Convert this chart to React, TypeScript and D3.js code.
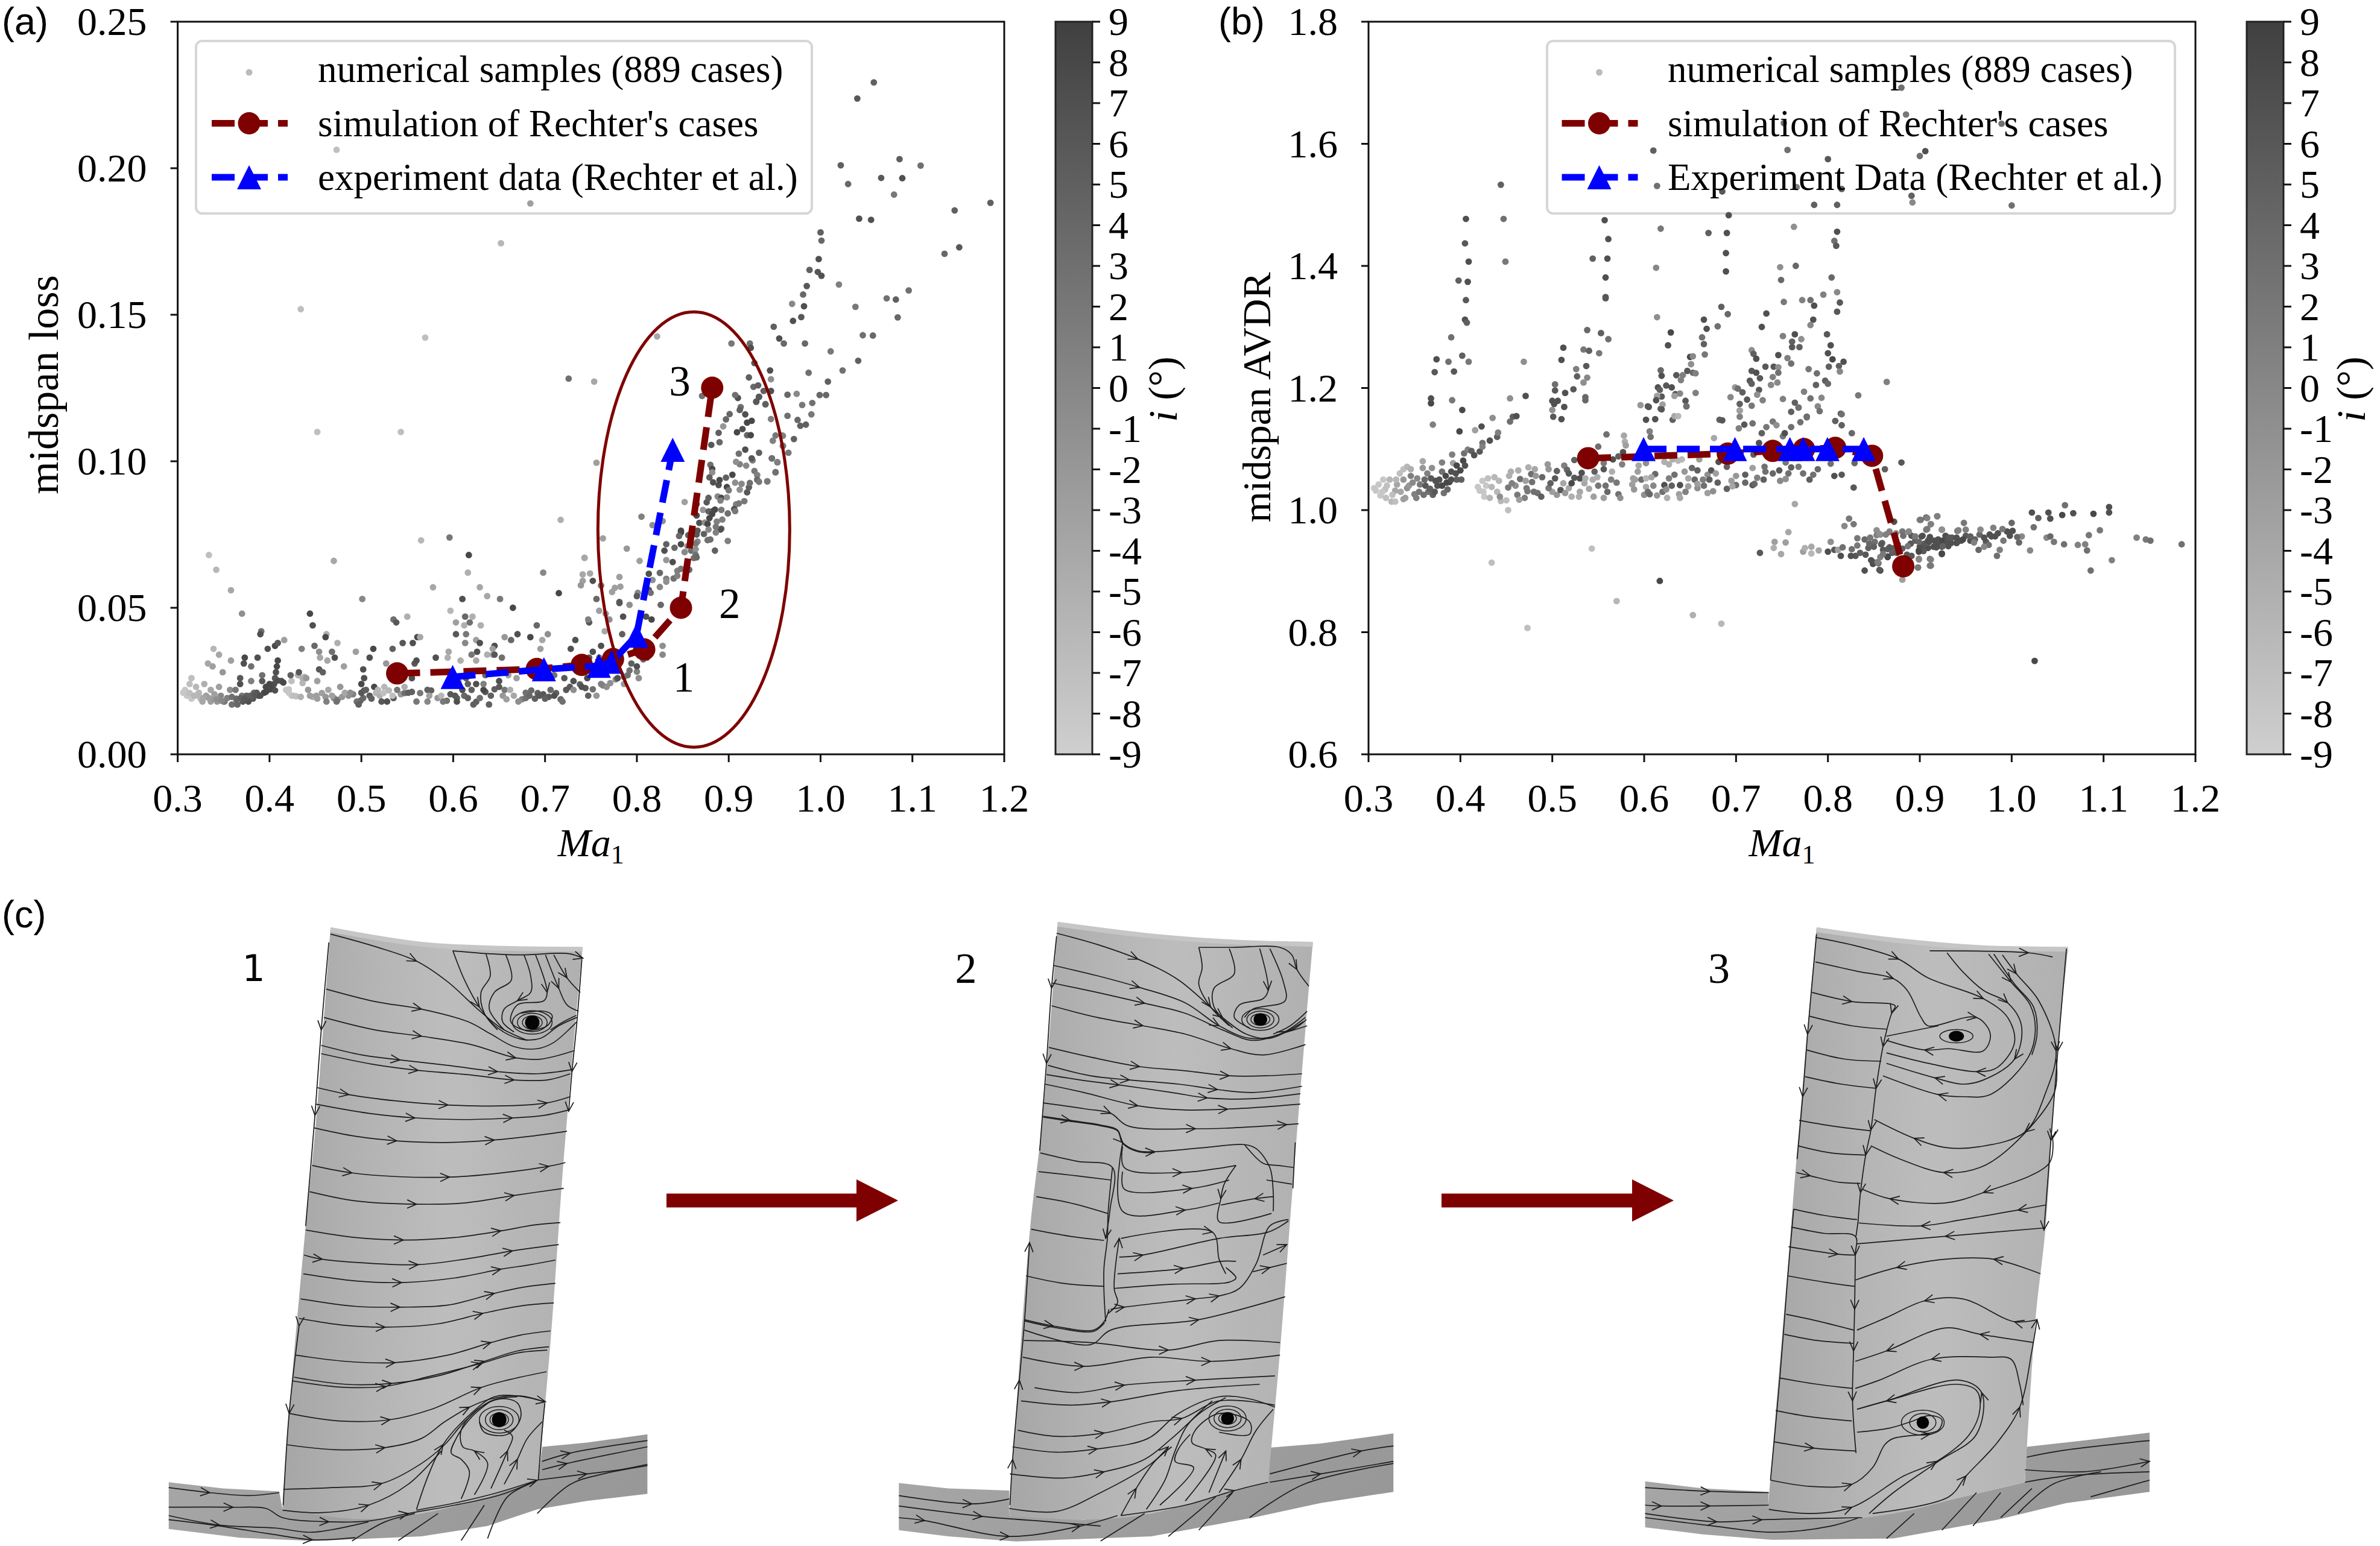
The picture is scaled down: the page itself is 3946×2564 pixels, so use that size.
import React from "react";
import * as d3 from "d3";

type P = [number, number, number];

const machTicks = [0.3, 0.4, 0.5, 0.6, 0.7, 0.8, 0.9, 1.0, 1.1, 1.2];
const lossTicks = [0, 0.05, 0.1, 0.15, 0.2, 0.25];
const avdrTicks = [0.6, 0.8, 1.0, 1.2, 1.4, 1.6, 1.8];
const incidenceTicks = [-9, -8, -7, -6, -5, -4, -3, -2, -1, 0, 1, 2, 3, 4, 5, 6, 7, 8, 9];

const simMach = [0.539, 0.691, 0.74, 0.774, 0.808, 0.848, 0.882];
const simLoss = [0.0276, 0.0291, 0.0305, 0.0325, 0.0358, 0.05, 0.1251];
const simAvdr = [1.085, 1.0925, 1.097, 1.1, 1.102, 1.089, 0.908];
const expMach = [0.5994, 0.6988, 0.7586, 0.773, 0.7995, 0.839];
const expLoss = [0.0264, 0.029, 0.0302, 0.0316, 0.0405, 0.1039];
const expAvdr = [1.1, 1.1, 1.1, 1.1, 1.1, 1.1];

const lossSamples: P[] = [
[.306,.021,-8],[.308,.022,-8],[.31,.02,-8],[.315,.019,-8],[.313,.024,-7],[.315,.026,-7],[.32,.023,-6],[.323,.021,-6],[.325,.019,-6],[.329,.024,-5],[.336,.018,-3],[.336,.022,-4],[.343,.018,-2],[.345,.023,-3],[.35,.018,1],[.357,.022,-1],[.359,.017,3],[.363,.022,2],[.365,.017,4],[.371,.018,6],[.37,.02,2],[.377,.018,7],[.382,.019,6],[.383,.021,3],[.388,.02,7],[.394,.021,8],[.398,.022,8],[.403,.023,8],[.405,.024,7],[.413,.025,7],[.406,.026,6],[.407,.028,7],[.408,.03,8],[.409,.032,8],[.368,.024,7],[.368,.026,6],[.392,.025,6],[.392,.027,3],[.38,.025,1],[.349,.028,-2],[.338,.03,-3],[.333,.031,-4],[.339,.036,-6],[.345,.034,-4],[.358,.032,-3],[.373,.033,8],[.372,.031,7],[.38,.03,3],[.387,.033,7],[.37,.048,-1],[.358,.056,-4],[.342,.063,-6],[.334,.068,-7],[.391,.042,3],[.39,.041,7],[.398,.036,7],[.406,.037,8],[.409,.038,6],[.416,.039,-3],
[.319,.02,-7],[.327,.018,-4],[.331,.02,-3],[.339,.019,-2],[.347,.02,0],[.351,.018,2],[.364,.019,3],[.375,.02,5],[.386,.021,6],[.396,.023,8],[.4,.024,8],
[.313,.0209,-7],[.318,.02,-6],[.323,.02,-6],[.328,.0192,-4],[.334,.0192,-3],[.34,.0205,-3],[.343,.0188,-1],[.348,.0183,0],[.354,.0192,1],[.359,.0196,3],[.364,.0186,4],[.369,.0192,5],[.373,.0189,6],[.379,.02,5],[.384,.0205,6],[.39,.02,7],[.396,.0213,8],[.401,.0222,8],[.406,.0218,7],[.409,.0252,7],[.415,.0245,8],
[.421,.0222,-8],[.424,.02,-8],[.429,.0198,-7],[.434,.0196,-5],[.436,.0243,-6],[.438,.0264,-5],[.447,.0196,-5],[.451,.02,-3],[.457,.0209,-3],[.461,.0196,-2],[.47,.0192,0],[.474,.0186,2],[.479,.0196,-2],[.486,.02,-1],[.491,.0205,1],[.499,.0183,5],[.502,.0192,4],[.503,.0218,7],[.509,.02,6],[.516,.0209,-6],[.52,.02,-5],[.524,.0209,-7],[.53,.0218,-6],[.535,.0192,6],
[.543,.0205,-2],[.547,.0209,3],[.555,.0213,5],[.564,.0209,2],[.576,.0218,5],[.583,.0192,-2],[.593,.0183,3],[.597,.0205,6],[.604,.0192,5],[.612,.02,4],[.616,.0192,5],[.625,.0179,5],[.629,.0192,3],[.635,.0213,6],[.641,.02,5],[.645,.0222,5],[.654,.02,-2],[.658,.0188,-3],[.675,.0188,1],[.679,.0192,3],[.685,.0218,4],[.692,.0209,5],[.698,.0205,6],[.704,.0196,6],[.712,.0209,5],[.717,.0188,4],[.727,.023,6],[.738,.0239,5],[.744,.0226,6],[.752,.0222,3],[.763,.0235,1],[.771,.0243,-1],[.777,.0256,0],[.786,.0264,2],[.792,.0286,3],[.8,.0282,1],[.807,.0324,4],
[.418,.022,-8],[.421,.021,-8],[.424,.025,-7],[.426,.02,-7],[.431,.027,-5],[.432,.028,6],[.423,.027,5],[.436,.026,-5],[.44,.026,-2],[.442,.022,-2],[.444,.02,-3],[.452,.025,-3],[.452,.019,-3],[.464,.022,-4],[.462,.018,1],[.468,.02,-3],[.473,.018,3],[.477,.023,-2],[.482,.021,-4],[.488,.021,-1],[.495,.018,3],[.497,.017,5],[.5,.021,6],[.5,.024,8],[.503,.026,7],[.502,.029,7],[.505,.022,5],[.511,.019,5],[.514,.023,8],[.518,.022,-6],[.522,.018,6],[.528,.018,7],[.525,.023,-6],[.534,.02,-7],[.454,.035,-1],[.455,.033,-4],[.462,.041,-5],[.461,.04,8],[.468,.035,3],[.471,.033,7],[.463,.032,-4],[.454,.029,6],[.458,.028,5],[.481,.03,-3],[.474,.038,-5],[.449,.037,4],[.435,.036,1],[.447,.044,7],[.444,.048,8],[.47,.066,-4],[.452,.11,-7],[.543,.11,-7],[.501,.053,0],[.494,.035,-3],[.509,.033,7],[.513,.036,8],[.534,.036,5],[.545,.038,6],[.556,.038,7],
[.527,.031,-2],[.539,.027,-1],[.558,.031,6],[.56,.032,7],[.561,.04,8],[.564,.04,-4],[.55,.047,-5],[.535,.046,3],[.538,.045,6],[.565,.073,-6],[.596,.074,2],[.616,.062,-5],[.617,.068,8],[.578,.057,-4],[.629,.057,-4],[.637,.054,-4],[.651,.053,2],[.665,.05,8],[.61,.053,7],[.597,.049,-6],[.613,.047,4],[.621,.047,-5],[.603,.045,-3],[.612,.044,-5],[.618,.045,3],[.63,.044,-5],[.603,.041,6],[.614,.041,2],[.625,.039,-3],[.629,.038,7],[.613,.038,0],[.645,.037,7],[.643,.036,-3],[.626,.035,7],[.595,.035,-4],[.594,.033,-5],[.608,.032,-5],[.62,.034,2],[.637,.034,-5],[.643,.034,-4],[.645,.034,6],[.653,.033,3],[.581,.033,7],[.625,.032,-4],[.656,.04,-2],[.663,.039,4],[.67,.041,7],[.684,.04,8],[.697,.039,-4],[.703,.041,-1],[.691,.044,4],[.695,.036,-3],[.733,.039,7],[.728,.036,7],
[.539,.022,2],[.547,.023,-5],[.555,.026,7],[.551,.021,5],[.56,.018,2],[.572,.022,5],[.574,.02,-3],[.572,.018,0],[.587,.02,-6],[.589,.018,2],[.602,.02,6],[.604,.018,7],[.606,.025,-5],[.614,.026,6],[.616,.024,5],[.61,.022,7],[.62,.022,5],[.625,.024,7],[.633,.022,8],[.633,.024,1],[.639,.017,5],[.622,.017,5],[.65,.025,7],[.65,.023,6],[.656,.022,2],[.662,.022,-5],[.666,.02,-4],[.671,.018,-1],[.679,.021,3],[.683,.02,4],[.689,.019,5],[.694,.02,6],[.7,.019,5],[.706,.022,4],[.71,.02,7],[.719,.018,3],[.723,.022,6],[.731,.025,7],[.721,.026,6],[.74,.023,7],[.746,.026,8],[.747,.02,5],[.756,.02,-2],[.767,.023,-1],[.761,.024,1],[.669,.026,-3],[.71,.027,3],[.635,.027,4],[.66,.027,-3],[.731,.022,-1],
[.761,.037,7],[.752,.035,7],[.748,.033,6],[.759,.033,3],[.767,.031,5],[.771,.029,6],[.779,.026,7],[.786,.024,-2],[.79,.027,3],[.794,.031,5],[.802,.026,-1],[.8,.03,7],[.811,.033,6],[.828,.037,-1],[.828,.034,0],[.816,.036,3],[.784,.041,5],[.765,.042,-4],[.748,.045,6],[.747,.046,1],[.77,.046,-1],[.759,.049,-3],[.766,.048,-2],[.781,.052,6],[.792,.051,-1],[.785,.047,7],[.81,.047,7],[.816,.046,8],[.826,.051,4],[.715,.055,8],[.698,.062,0],[.717,.08,-5],[.743,.067,-6],
[.756,.0995,-3],[.763,.0737,-3],[.789,.0702,-2],[.743,.0671,-4],[.741,.0614,-4],[.749,.0617,-4],[.741,.0592,-3],[.739,.0577,-2],[.752,.0592,7],[.761,.0576,3],[.781,.0605,-3],[.776,.0568,-3],[.773,.0554,-3],[.782,.0572,-3],[.803,.066,-3],[.805,.0811,1],[.817,.0782,-1],[.828,.0796,-1],[.832,.0663,-2],[.832,.0717,5],[.83,.0695,7],[.841,.0705,4],[.848,.0717,8],[.839,.0656,7],[.825,.0619,4],[.813,.0616,7],[.817,.0595,-1],[.832,.0599,1],[.832,.0589,-1],[.825,.0571,0],[.84,.06,3],[.844,.0626,1],[.844,.0609,1],[.848,.0633,2],[.857,.063,4],[.801,.0551,0],[.8,.054,6],[.813,.0561,7],[.815,.0551,3],[.756,.053,4],[.781,.0516,6],
[.852,.0861,-3],[.865,.0854,7],[.872,.0834,-2],[.863,.0822,3],[.865,.0815,8],[.876,.086,6],[.878,.0875,5],[.888,.088,0],[.892,.0875,8],[.891,.0866,1],[.898,.0877,-1],[.912,.0903,-1],[.92,.0894,6],[.922,.0911,5],[.923,.0926,3],[.907,.0927,-1],[.914,.0923,0],[.898,.0912,8],[.9,.0901,2],[.908,.0853,1],[.911,.0856,2],[.917,.0864,2],[.906,.0837,7],[.907,.083,2],[.899,.0822,3],[.892,.0834,2],[.885,.0835,8],[.882,.0829,8],[.878,.0829,5],[.882,.082,8],[.879,.0806,8],[.868,.079,7],[.874,.0791,-1],[.877,.0786,8],[.887,.0794,1],[.893,.0801,1],[.892,.077,3],[.891,.0767,7],[.886,.0776,2],[.886,.0757,1],[.878,.0767,0],[.873,.0752,5],[.866,.0763,6],[.865,.075,6],[.848,.0757,8],[.848,.0763,8],[.846,.0745,4],[.856,.0748,5],[.866,.0726,0],[.864,.0719,2],[.877,.0731,3],[.88,.0733,3],[.899,.0728,1],[.885,.0695,5],[.855,.071,-2],[.852,.069,0],[.859,.0695,3],[.864,.07,-1],[.864,.0681,3],[.862,.067,3],[.865,.0672,4],
[.88,.0988,3],[.882,.0974,8],[.882,.0962,-1],[.879,.0945,5],[.883,.0928,7],[.889,.0919,7],[.89,.0936,8],[.897,.0944,5],[.904,.0954,8],[.919,.0985,0],[.912,.099,1],[.908,.0998,-1],[.926,.1003,1],[.925,.101,6],[.911,.1026,3],[.918,.104,7],[.933,.1029,5],[.947,.101,6],[.953,.0997,4],[.951,.0962,3],[.928,.0967,2],[.931,.0953,1],[.931,.0937,4],[.933,.093,2],[.942,.0931,1],[.881,.1056,6],[.89,.1065,4],[.889,.1097,5],[.894,.1119,-2],[.897,.1143,4],[.901,.1161,4],[.918,.116,7],[.913,.1185,3],[.912,.1175,5],[.92,.1132,8],[.925,.1138,8],[.915,.111,7],[.909,.1099,8],[.92,.1089,4],[.924,.1089,8],[.948,.107,1],[.951,.1088,2],[.958,.1088,2],[.946,.1144,1],[.959,.1053,3],[.91,.1216,7],[.907,.1226,3],[.933,.122,7],[.93,.1204,7],[.94,.1194,6],[.871,.1223,3],
[1.058,.2293,5],[1.04,.2238,6],[1.086,.2031,5],[1.022,.201,5],[1.109,.2009,3],[1.03,.1946,4],[1.066,.1967,6],[1.089,.1966,7],[1.08,.191,2],[1.185,.1882,5],[1.146,.1856,5],[1.042,.1828,7],[1.055,.1824,7],[1,.1781,5],[1.001,.1753,4],[1.151,.173,6],[1.135,.1708,4],[.998,.169,7],[.988,.1653,5],[.997,.1646,6],[1.001,.1633,7],[1.02,.1603,1],[.985,.1598,6],[.981,.1569,4],[1.096,.1583,3],[1.072,.1556,3],[1.082,.1552,5],[.969,.1537,0],[.982,.1529,7],[1.038,.1527,2],[.979,.1492,6],[.97,.1479,7],[1.084,.1491,4],[.949,.1459,5],[1.046,.143,3],[1.057,.1429,4],[.955,.1419,7],[.96,.1402,4],[.983,.1402,4],[1.011,.1375,2],[1.041,.1343,5],[1.024,.131,3],[.987,.1302,3],[1.008,.1272,5],[.945,.131,7],[.946,.128,-1],[.999,.1226,4],[1.006,.1226,4],[.964,.1227,4],[.974,.123,0],[.991,.1199,3],[.98,.1192,2],[.99,.116,2],[.964,.1155,3],[.975,.1141,4],[.978,.1121,5],[.984,.1125,5],[.971,.1076,5],[.959,.1087,1],[.959,.1052,2],[.965,.1029,2],[.953,.0996,1],[.947,.101,3],[.951,.0963,3],[.942,.0932,2],
[.822,.1426,-4],[.903,.1402,2],[.923,.1402,3],[.924,.1387,7],[.928,.1335,6],[.922,.1286,5],[.927,.1254,4],[.932,.1259,5],[.938,.124,5],[.946,.124,7],[.933,.122,6],[.93,.1203,6],[.94,.1195,5],
[.473,.2063,-7],[.684,.188,-3],[.652,.1744,-6],[.434,.1519,-7],[.5695,.1422,-7],[.7257,.1282,3],[.7535,.1272,-4]
];

const avdrSamples: P[] = [
[.306,1.036,-8],[.308,1.032,-8],[.311,1.042,-8],[.313,1.024,-8],[.316,1.05,-8],[.318,1.034,-7],[.319,1.02,-7],[.323,1.05,-6],[.325,1.014,-6],[.329,1.014,-7],[.329,1.032,-4],[.331,1.042,-4],[.334,1.06,-7],[.338,1.067,-7],[.338,1.018,-3],[.338,1.05,-2],[.342,1.071,-6],[.342,1.036,-1],[.346,1.067,-5],[.346,1.056,1],[.344,1.04,-2],[.35,1.026,1],[.352,1.02,1],[.353,1.052,0],[.356,1.042,2],[.359,1.08,-4],[.359,1.069,-2],[.364,1.06,1],[.361,1.05,4],[.362,1.04,6],[.365,1.03,3],[.369,1.069,-1],[.368,1.052,6],[.37,1.025,5],[.375,1.04,7],[.373,1.048,7],[.38,1.078,1],[.38,1.063,3],[.384,1.056,8],[.382,1.028,3],[.386,1.034,4],[.388,1.046,8],[.39,1.063,7],[.392,1.077,-3],[.391,1.091,1],[.396,1.073,8],[.396,1.05,5],[.401,1.05,5],[.403,1.081,8],[.405,1.073,7],[.404,1.093,3],[.408,1.099,1],[.412,1.097,5],[.415,1.09,7],[.421,1.096,6],[.424,1.11,3],[.424,1.104,1],[.432,1.114,7],[.44,1.12,5],[.441,1.127,1],[.423,1.137,7],[.416,1.131,-3],[.435,1.151,-1],[.454,1.145,3],[.457,1.153,5],[.461,1.154,7],[.471,1.187,7],[.454,1.183,-1],[.402,1.164,8],[.399,1.129,8],[.37,1.14,1],[.391,1.18,2],[.368,1.175,8],[.368,1.183,7],
[.315,1.03,-8],[.32,1.04,-7],[.326,1.025,-7],[.33,1.05,-6],[.335,1.03,-4],[.34,1.02,-3],[.348,1.045,0],[.355,1.03,2],[.36,1.025,3],[.367,1.035,5],[.372,1.03,6],[.377,1.05,7],[.38,1.04,8],[.385,1.045,8],[.39,1.05,7],[.395,1.06,7],[.4,1.065,8],[.425,1.03,-8],[.428,1.04,-8],[.44,1.03,-6],[.46,1.04,-1],[.47,1.02,1],[.48,1.03,3],[.5,1.03,-3],[.505,1.025,-2],[.53,1.03,-4],[.54,1.035,-4],[.55,1.04,2],[.56,1.03,4],[.57,1.045,2],[.59,1.05,-3],[.6,1.025,-1],[.61,1.04,0],[.62,1.03,3],[.63,1.04,5],[.645,1.03,1],[.655,1.05,4],[.665,1.04,3],[.68,1.045,5],[.69,1.035,5],[.71,1.045,4],[.73,1.05,5],[.74,1.06,4],[.76,1.07,5],[.78,1.05,5],
[.501,1.153,6],[.51,1.149,7],[.5,1.164,-1],[.602,1.148,7],[.612,1.149,7],[.605,1.169,7],[.618,1.166,5],[.646,1.17,6],[.631,1.148,5],[.703,1.134,1],[.709,1.14,6],[.718,1.142,3],[.682,1.148,5],[.685,1.147,6],[.728,1.126,5],[.733,1.136,2],[.74,1.145,2],[.744,1.139,-1],[.76,1.136,3],[.768,1.168,5],[.76,1.161,5],[.77,1.144,3],[.777,1.153,7],[.808,1.146,5],[.814,1.158,6],[.815,1.139,5],[.826,1.126,4],[.751,1.121,2],[.753,1.126,7],[.704,1.163,-1],[.704,1.153,1],
[.419,1.038,-8],[.421,1.032,-8],[.424,1.048,-8],[.426,1.022,-8],[.43,1.052,-7],[.432,1.02,-6],[.434,1.038,-6],[.437,1.054,-6],[.442,1.048,-6],[.444,1.015,-6],[.443,1.022,-1],[.45,1.016,-7],[.453,1.056,-5],[.455,1.063,-5],[.452,1.037,2],[.452,1.0,-7],[.456,1.044,1],[.462,1.025,2],[.464,1.017,-3],[.463,1.065,-5],[.465,1.051,3],[.471,1.048,-3],[.472,1.036,2],[.474,1.07,-5],[.473,1.031,2],[.477,1.059,3],[.481,1.067,-4],[.478,1.046,3],[.482,1.056,-2],[.484,1.028,3],[.488,1.022,5],[.489,1.054,4],[.495,1.075,-2],[.496,1.067,-2],[.496,1.036,2],[.498,1.044,5],[.503,1.052,6],[.505,1.064,5],[.509,1.033,6],[.512,1.044,-4],[.513,1.073,1],[.514,1.028,-2],[.516,1.066,4],[.518,1.06,6],[.518,1.036,-4],[.521,1.022,-5],[.521,1.044,8],[.524,1.053,6],[.529,1.022,-5],[.53,1.052,7],[.532,1.061,7],[.535,1.044,-4],[.536,1.052,-5],[.524,1.082,5],[.544,1.05,-5],[.545,1.022,-3],[.546,1.063,5],[.549,1.054,-5],[.55,1.104,3],[.556,1.067,6],[.556,1.077,2],[.559,1.124,3],[.558,1.04,3],[.556,1.02,-3],[.564,1.05,1],[.565,1.063,-5],[.566,1.083,7],[.572,1.088,5],[.572,1.026,3],[.574,1.02,-1],[.577,1.095,7],[.576,1.075,1],[.579,1.112,-5],[.578,1.122,-4],[.58,1.106,-3],[.587,1.042,-3],[.589,1.034,-2],[.588,1.052,-3],[.593,1.063,-3],[.594,1.073,-4],[.597,1.05,3],[.602,1.052,-6],[.602,1.077,-1],[.602,1.038,-4],[.604,1.03,3],[.606,1.026,4],[.607,1.12,3],[.606,1.129,1],[.614,1.024,-2],[.612,1.059,4],[.608,1.054,-4],[.622,1.041,7],[.624,1.034,-1],[.625,1.02,-5],[.627,1.052,1],[.633,1.058,3],[.638,1.026,-3],[.639,1.02,-4],[.639,1.041,7],[.644,1.063,-2],[.648,1.039,-3],[.648,1.052,-4],[.652,1.069,4],[.658,1.065,5],[.658,1.036,-1],[.658,1.043,-3],[.66,1.083,-3],[.664,1.05,1],[.669,1.028,-3],[.669,1.058,-1],[.671,1.05,5],[.673,1.065,6],[.675,1.031,-1],[.678,1.06,-3],[.676,1.118,-4],[.622,1.079,-5],[.627,1.075,-5],[.631,1.083,-5],[.637,1.081,-6],[.641,1.083,-6],[.695,1.048,-3],[.7,1.056,-2],[.7,1.041,3],[.696,1.039,-4],[.71,1.058,5],[.718,1.069,-3],[.718,1.041,6],[.72,1.043,4],[.723,1.053,1],[.731,1.071,3],[.732,1.063,3],[.747,1.065,6],[.748,1.048,0],[.754,1.051,-1],[.757,1.06,3],[.754,1.078,2],[.768,1.071,2],[.773,1.06,3],[.784,1.058,3],[.789,1.067,4],[.803,1.076,3],[.807,1.056,7],[.815,1.058,6],[.829,1.077,4],[.828,1.037,6],[.862,1.067,5],[.88,1.078,6],[.764,1.01,-4],[.681,1.079,7],[.685,1.083,7],[.69,1.071,5],[.725,1.11,7],[.719,1.091,5],
[.434,.914,-7],[.473,.807,-7],[.543,.937,-7],[.57,.851,-6],[.617,.884,8],[.653,.828,-5],[.684,.814,-6],[.757,.964,-4],
[.742,.948,-3],[.754,.947,-3],[.741,.938,-5],[.749,.928,-4],[.726,.93,6],[.773,.932,-3],[.782,.94,-4],[.782,.929,-6],[.775,.938,-5],[.79,.934,-4],[.8,.932,7],[.807,.935,6],[.803,.948,-1],[.811,.935,-3],[.816,.939,3],[.814,.925,7],[.826,.936,3],[.832,.954,2],[.83,.925,6],[.832,.942,2],[.818,.974,0],[.823,.986,2],[.828,.977,2],[.84,.901,7],[.841,.927,6],[.847,.918,7],[.849,.912,8],[.857,.901,8],[.865,.923,8],[.855,.913,3],[.857,.923,1],[.844,.938,5],[.84,.952,4],[.846,.955,2],[.853,.967,-1],[.857,.96,0],[.863,.96,1],[.867,.965,-1],[.851,.948,3],[.859,.946,5],[.865,.936,5],[.872,.938,5],[.872,.981,7],[.874,.962,0],[.881,.965,2],[.882,.958,3],[.888,.964,2],[.891,.958,6],[.886,.927,6],[.891,.925,6],[.881,.886,-3],[.898,.906,2],[.899,.934,7],[.899,.92,2],[.904,.936,7],[.911,.92,2],[.911,.909,1],[.909,.938,7],[.924,.928,8],[.916,.94,6],[.907,.968,2],[.912,.977,2],[.901,.984,3],[.907,.988,4],[.919,.99,4],[.924,.968,3],[.903,.958,6],[.911,.956,7],[.92,.952,7],[.928,.958,7],[.934,.946,7],[.941,.966,3],[.924,.94,6],[.928,.948,7],[.941,.948,7],
[.89,.945,6],[.895,.95,5],[.9,.94,7],[.905,.945,6],[.91,.948,7],[.915,.94,7],[.92,.945,7],[.925,.95,8],[.93,.95,7],[.935,.955,6],[.94,.955,7],[.945,.95,7],[.95,.958,6],[.955,.95,7],[.96,.952,5],[.965,.96,4],[.972,.948,6],[.976,.96,7],[.985,.962,7],[.995,.965,7],[.87,.93,5],[.875,.93,6],[.86,.935,6],[.85,.94,5],[.835,.93,5],[.845,.945,4],[.825,.925,7],
[1.058,1.008,3],[1.022,.996,7],[1.04,.996,7],[1.029,.987,5],[1.042,.986,7],[1.055,.992,8],[1.067,.995,7],[1.089,.994,8],[1.106,1.005,7],[1.106,.996,7],[1.024,.972,3],[1.0,.979,4],[1.096,.967,2],[1.084,.959,2],[1.038,.955,0],[1.042,.957,4],[1.046,.948,2],[1.057,.944,3],[1.072,.943,1],[1.08,.944,1],[1.082,.934,3],[1.02,.934,0],[1.109,.918,1],[1.086,.901,3],[1.136,.955,1],[1.146,.952,2],[1.151,.95,3],[1.185,.944,3],[1.025,.753,8],[1.011,.957,0],[1.008,.947,4],[1.006,.956,4],[1.001,.966,7],[.998,.958,7],[.991,.95,2],[.987,.935,1],[.984,.925,3],[.99,.969,2],[.98,.971,1],[.982,.957,7],[.978,.957,7],[.975,.943,3],[.97,.955,7],[.966,.968,0],[.964,.935,4],[.97,.94,0],[.959,.947,1],[.955,.957,5],[.95,.968,1],[.947,.952,8],[.94,.946,7],[.942,.967,1],[.948,.979,2],[.932,.955,6],[.931,.941,7],[.924,.929,8],[.925,.941,5],[.924,.968,-1],[.919,.99,1],[.908,.987,1],[.9,.984,2],[.912,.977,1],[.908,.969,2],[.912,.919,1],[.912,.909,2],[.898,.906,2],[.899,.919,0],[.888,.965,0],[.895,.957,2],[.902,.957,7],[.909,.95,7],[.916,.95,7],[.918,.939,7],[.904,.933,6],[.899,.932,8],[.899,.948,4],[.881,.937,5],[.887,.941,2],[.876,.944,5],[.867,.939,6],[.858,.944,6],[.865,.924,8],[.856,.902,6],[.849,.915,7],[.854,.915,1],[.86,.928,2],[.853,.959,1],[.867,.964,1],[.856,.961,-1],
[.444,1.533,5],[.406,1.477,7],[.447,1.477,3],[.405,1.437,6],[.409,1.407,7],[.449,1.407,2],[.398,1.376,5],[.408,1.374,7],[.406,1.344,6],[.405,1.312,7],[.407,1.307,5],[.39,1.283,3],[.374,1.247,7],[.372,1.226,6],[.387,1.243,3],[.393,1.227,6],[.402,1.253,5],[.409,1.243,2],[.469,1.243,-1],
[.557,1.475,7],[.561,1.444,7],[.544,1.412,5],[.56,1.412,7],[.558,1.381,7],[.558,1.349,6],[.558,1.347,6],[.538,1.295,4],[.553,1.29,5],[.561,1.28,3],[.512,1.266,7],[.534,1.263,2],[.54,1.261,5],[.551,1.257,2],[.51,1.246,7],[.526,1.231,1],[.537,1.236,6],[.527,1.219,5],[.538,1.217,0],[.534,1.209,-1],[.503,1.206,3],[.503,1.196,6],[.523,1.198,6],[.514,1.192,7],[.536,1.185,4],[.536,1.18,4],[.5,1.179,7],[.506,1.179,7],[.502,1.174,7],[.513,1.169,7],
[.61,1.589,5],[.614,1.531,3],[.618,1.461,2],[.613,1.397,0],[.614,1.316,-1],[.629,1.291,8],[.626,1.27,7],[.618,1.229,4],[.619,1.22,7],[.635,1.221,6],[.642,1.221,1],[.647,1.228,6],[.64,1.213,1],[.65,1.251,8],[.653,1.252,0],[.651,1.239,-1],[.653,1.225,4],[.656,1.224,1],[.615,1.201,7],[.617,1.197,5],[.624,1.204,6],[.63,1.201,7],[.634,1.19,7],[.639,1.191,0],[.656,1.192,1],[.619,1.186,6],[.614,1.187,-3],[.613,1.18,7],[.604,1.17,6],[.596,1.172,-2],[.62,1.173,-3],[.619,1.165,6],[.645,1.179,6],[.646,1.17,3],[.633,1.187,-3],[.633,1.154,-4],[.637,1.154,-6],
[.67,1.454,5],[.69,1.454,7],[.689,1.421,7],[.689,1.391,7],[.685,1.522,6],[.692,1.483,7],[.684,1.333,5],[.691,1.321,4],[.68,1.301,3],[.668,1.297,7],[.665,1.312,7],[.663,1.283,3],[.665,1.272,5],[.666,1.255,2],
[.756,1.59,3],[.766,1.529,1],[.752,1.634,3],[.748,1.398,-1],[.749,1.377,4],[.765,1.4,4],[.763,1.464,-1],[.752,1.341,2],[.733,1.322,7],[.728,1.3,7],[.772,1.344,1],[.781,1.344,3],[.785,1.335,7],[.795,1.353,1],[.81,1.456,7],[.807,1.441,3],[.809,1.433,6],[.785,1.5,5],[.81,1.5,5],[.815,1.526,5],[.8,1.575,6],[.804,1.381,4],[.81,1.357,0],[.813,1.34,6],[.81,1.325,6],[.784,1.312,7],[.781,1.303,0],[.764,1.288,7],[.751,1.285,1],[.761,1.276,5],[.761,1.267,6],[.769,1.267,5],[.771,1.28,-1],[.799,1.288,6],[.803,1.27,7],[.8,1.257,7],[.805,1.247,8],[.801,1.235,5],[.812,1.236,5],[.817,1.243,7],[.813,1.227,0],
[.717,1.262,-1],[.719,1.256,5],[.722,1.248,7],[.746,1.254,7],[.732,1.235,6],[.741,1.235,6],[.746,1.234,-1],[.717,1.228,6],[.722,1.225,7],[.746,1.225,3],[.74,1.218,1],[.726,1.216,6],[.715,1.212,6],[.717,1.207,5],[.745,1.209,0],[.738,1.205,0],[.756,1.249,1],[.76,1.24,3],[.779,1.231,2],[.788,1.224,3],[.787,1.205,5],[.797,1.212,5],[.8,1.207,4],[.774,1.194,1],[.781,1.183,3],[.793,1.184,0],[.699,1.201,-2],[.702,1.199,3],[.707,1.193,5],[.725,1.197,6],[.694,1.185,0],[.712,1.181,6],[.723,1.189,-1],[.729,1.18,1],[.704,1.174,5],[.717,1.171,2],[.751,1.182,1],[.764,1.176,5],[.768,1.168,3],[.789,1.17,0],[.791,1.162,3],[.815,1.157,3],[.777,1.152,3],[.704,1.163,-3],[.833,1.188,2],[.864,1.21,1],
[.88,1.692,3],[.885,1.648,2],[.9,1.58,3],[.906,1.588,7],[.891,1.515,5],[.892,1.504,0],[1.0,1.499,3],[.989,1.633,3]
];

// Surface-flow sketches of panel (c): drawing units are 0..1568 across each crop. ">" marks an arrowhead, "|" splits an outline at a corner.
const bladeOneFrame = { x: [260, 1120], y: [1480, 2564], num: "1", numX: 293, numY: 212, font: "DejaVu Sans", size: 60 };
const bladeTwoFrame = { x: [1460, 2340], y: [1480, 2564], num: "2", numX: 252, numY: 217, font: "Liberation Serif", size: 72 };
const bladeThreeFrame = { x: [2680, 3580], y: [1480, 2564], num: "3", numX: 296, numY: 217, font: "Liberation Serif", size: 72 };

const bladeOneBlade = "525,85 800,120 1050,130 1287,132|1287,132 1265,320 1230,640 1190,1080 1153,1410|1153,1410 1000,1450 800,1490 600,1503 380,1480|380,1480 400,1250 450,800 480,560 525,85";
const bladeOneWall = "36,1415 200,1430 370,1437 380,1480 600,1503 800,1490 1000,1450 1153,1410 1165,1330 1300,1320 1483,1300 1483,1443 1300,1460 1150,1480 1000,1520 800,1545 470,1556 250,1548 36,1527";
const bladeOneVortices = [[1135,312,60,28],[1135,312,45,22],[1135,312,30,16],[1035,1265,60,32],[1035,1265,42,24],[1035,1265,28,16]];
const bladeOneCores = [[1135,312,22,17],[1035,1265,22,18]];
const bladeOneStreams = [
"525,100 660,130 785,165> 880,215 970,280 1040,325 1120,355","512,232 660,262 800,280> 940,310 1010,340 1080,370 1150,375 1200,360 1270,310","505,300 660,330 800,345> 950,365 1085,397> 1160,400 1260,380","497,367 620,390 735,402> 880,415 1030,430> 1150,435 1255,425","497,387 650,412 790,427> 950,438 1080,450> 1180,450 1250,435","483,468 580,485> 720,500 880,510> 1060,512 1180,505> 1250,490","480,508 640,530 780,541> 930,545 1075,541> 1170,535 1245,522","476,565 600,585 725,596> 870,600 1020,594> 1130,585 1240,573","470,655 590,673> 730,682 885,683> 1020,675 1185,657> 1235,648","462,718 600,740 785,748> 930,745 1080,727> 1230,710","450,810 600,828 745,834> 900,828 1040,812> 1140,798 1220,792","445,870 500,880> 650,890 790,893> 930,880 1075,860> 1215,845","443,915 600,932 740,936> 900,925 1040,904> 1130,893 1205,882","435,975 600,993 735,995> 880,990 1020,962> 1110,947 1205,938","430,1022 560,1038 690,1043> 850,1035 985,1010> 1100,992 1200,985","420,1110 570,1125 720,1128> 880,1110 1010,1080> 1100,1062 1190,1052","415,1163 570,1180 710,1178> 850,1160 990,1125> 1090,1100 1185,1090","410,1172 560,1187 690,1185> 830,1160 980,1130> 1090,1105 1180,1098","400,1250 550,1268 705,1265> 830,1240 980,1188> 1060,1170 1178,1150","392,1325 540,1337 690,1332> 800,1310 870,1270 945,1235> 1010,1215 1100,1208 1170,1222","382,1432 530,1428 680,1418> 800,1370 870,1325 930,1270 1010,1220 1090,1210","380,1482 500,1488 640,1470> 760,1420 860,1340",
"895,140 1000,147 1100,150 1245,147 1288,158>","895,140 930,210 975,275> 1030,325 1100,352 1160,350 1215,320 1270,300","995,148 1008,200 980,240 990,290 1030,330","1055,150 1072,210 1020,240 1005,280 1050,330","1110,150 1130,200 1130,240 1090,260> 1050,280 1045,310 1080,335","1145,150 1180,240> 1170,260 1090,270 1070,310 1110,330 1180,320 1195,295 1170,285 1100,290","1175,150 1215,230> 1240,270 1275,285","1200,150 1240,205> 1280,240","1190,330 1230,310 1268,295","520,120 497,330> 478,535> 450,800","430,1040> 400,1250> 382,1470","1285,160 1270,310 1255,430> 1245,525>",
"785,1480 820,1400 865,1325> 950,1250 1020,1210 1090,1208 1175,1222>","920,1455 945,1390 920,1360 890,1345 905,1310 950,1260 1010,1220","960,1445 1000,1370 960,1340> 925,1330 920,1290 970,1240 1040,1215 1090,1225 1100,1260 1060,1300 990,1295 975,1270","1010,1430 1060,1340> 1075,1305 1050,1290","1050,1420 1090,1360> 1120,1310 1165,1270","785,1482 900,1465 1030,1440 1150,1410>","1153,1410 1165,1290 1173,1225",
"36,1428 160,1440> 280,1447 370,1440","36,1475 230,1475> 330,1478 380,1500 520,1510> 640,1508 760,1490> 900,1470 1040,1445 1150,1410","36,1495 190,1518> 360,1525 470,1535 640,1510","36,1505 190,1520 350,1540 470,1553> 600,1548","1165,1365 1250,1345> 1483,1315","1165,1385 1240,1370> 1483,1330","1150,1410 1300,1395> 1400,1385 1483,1372","590,1556 690,1510 780,1490","730,1555 850,1490","920,1555 990,1470","1000,1550 1060,1450 1140,1415","1150,1490 1250,1420 1350,1395 1483,1375"
];

const bladeTwoBlade = "523,72 800,100 1050,115 1277,120|1277,120 1255,330 1220,680 1180,1100 1145,1415|1145,1415 1000,1445 800,1490 600,1505 380,1495|380,1495 400,1250 440,820 480,530 523,72";
const bladeTwoWall = "54,1417 200,1430 380,1435 380,1495 600,1505 800,1490 1000,1445 1145,1415 1152,1332 1300,1322 1515,1298 1515,1438 1300,1465 1100,1500 800,1545 400,1557 200,1545 54,1530";
const bladeTwoVortices = [[1122,305,55,26],[1122,305,40,20],[1122,305,28,14],[1025,1262,55,30],[1025,1262,40,22],[1025,1262,26,14]];
const bladeTwoCores = [[1122,305,20,15],[1025,1262,19,15]];
const bladeTwoStreams = [
"520,98 640,125 760,160> 880,210 1010,300> 1080,340 1150,350 1250,310","510,175 640,200 765,228> 900,265 1000,320> 1090,350 1180,340 1255,300","505,217 640,240 780,266> 900,290 1010,330 1100,355 1200,335 1260,320","505,272 640,300 775,320> 900,340 1035,375> 1130,390 1255,365","497,372 620,395 765,418> 900,428 1030,440> 1140,440 1245,435","495,415 620,440 735,450> 880,460 995,473> 1100,480 1245,465","490,437 590,450 705,462> 860,480 965,493> 1100,495 1240,483","485,460 600,480 760,512> 900,522 1025,520> 1130,515 1240,508","480,505 610,520 680,530> 730,560 930,567> 1040,565 1200,557> 1235,555",
"480,537 560,547> 650,558 700,570 715,600> 760,620 810,622> 960,612 1075,605 1110,615 1150,660 1160,720 1160,765","480,539 560,549 650,560 700,572 715,602 760,622 810,624","715,610 720,660 890,672> 1050,655","715,670 720,712 920,710> 1030,690","715,600 715,765 900,762> 1000,745","1050,655 1015,700 1005,735> 1000,790 1155,770","1075,605 1130,650 1175,655 1220,660","1140,690 1215,700","1160,730 1105,735> 1005,750",
"472,625 580,645 685,660 678,760 665,830>","467,670 580,680 680,690","460,730 560,745 670,770","445,808 560,825 660,835","430,920 540,938 660,945","425,1025 510,1040> 630,1050 660,1030 675,1000","425,1028 510,1043 630,1053 662,1032",
"710,830 980,815> 1000,880 1020,915","705,875 775,870> 1000,830 1145,815 1205,788","700,915 895,902> 1005,885 1050,885","690,950 860,940 1030,935 1050,925 1020,900","680,1000 720,995> 930,975> 1000,968> 1060,950 1110,890 1150,800 1205,785","672,1010 700,985 690,950 705,830>","1100,910 1150,900> 1200,890","1130,870 1200,845>","665,1030 660,960 660,900 670,830 672,770 685,660",
"425,1050 620,1085 680,1050 940,1025> 1195,970","423,1075 620,1080 850,1098> 1000,1075 1180,1080","420,1115 600,1137> 800,1115 975,1125> 1180,1110","455,1188 580,1200 720,1182> 930,1170> 1165,1160","415,1220 560,1230 680,1222> 880,1195 1120,1180","405,1290 520,1305 660,1297> 800,1270 890,1262> 1000,1220 1165,1230","390,1330 520,1343 640,1335> 790,1310 880,1250 1000,1210 1090,1215 1165,1235","382,1395 540,1405 660,1390> 780,1360 860,1310 950,1245 1020,1212","380,1478 520,1485 650,1440 800,1370 850,1330>",
"940,132 1040,132 1180,132 1215,150 1230,185> 1265,225","940,132 950,180 940,220 975,275> 1030,320","1030,135 1045,195 985,230 985,275 1040,325","1120,135 1145,235> 1130,255 1060,270 1045,300 1090,325","1150,135 1190,215 1195,260 1100,280 1075,300","1160,340 1210,320 1260,285","1170,335 1215,330 1258,305",
"710,1495 755,1430> 810,1365 860,1330","785,1480 840,1410 870,1340 905,1280 980,1220","825,1470 925,1380 870,1365 880,1335 915,1300","900,1460 990,1350 960,1335> 920,1320 930,1290 1000,1250 1090,1270 1090,1300 1000,1295","970,1440 1020,1340>","1000,1440 1065,1360> 1110,1290 1160,1240","710,1495 900,1470 1045,1435> 1145,1415",
"520,105 505,230> 490,410> 470,620","382,1470 390,1360> 410,1170> 425,1030 440,840>","1225,600 1218,710",
"54,1447 270,1467> 380,1455","54,1472 300,1497> 500,1510 650,1520","54,1500 130,1507> 380,1545> 590,1520> 700,1495","1150,1395 1420,1340> 1515,1328","1150,1415 1300,1395> 1515,1365","650,1556 780,1490","850,1545 990,1450","940,1530 1040,1440","1090,1500 1250,1420 1515,1370"
];

const bladeThreeBlade = "578,85 800,110 1050,128 1305,132|1305,132 1270,420 1240,800 1210,1030 1180,1415|1180,1415 1000,1450 800,1490 620,1505 438,1480|438,1480 460,1250 495,900 520,640 578,85";
const bladeThreeWall = "83,1413 250,1430 440,1438 438,1480 620,1505 800,1490 1000,1450 1180,1415 1185,1330 1350,1315 1540,1296 1540,1438 1300,1465 1100,1505 800,1550 450,1553 250,1540 83,1523";
const bladeThreeVortices = [[982,345,48,16],[885,1272,38,22],[885,1272,62,30]];
const bladeThreeCores = [[982,345,22,13],[885,1272,18,15]];
const bladeThreeStreams = [
"575,108 700,130 815,160> 900,205 1060,255> 1130,300 1150,360 1100,420 1040,430> 900,410 780,385","575,167 700,190 800,207> 840,235 880,300 900,320 1040,300> 1080,340 1060,380 960,375 890,378> 780,355",
"565,240 680,262> 805,272 795,290> 770,370> 750,470> 735,570> 720,630> 705,720> 698,790","558,297 680,320 780,328","550,378 660,400 765,405","545,442 650,460 750,470","528,547 620,560 735,572","525,608 620,625 720,630","520,672 560,680> 640,695 705,698","512,760 600,775 695,785","505,803 600,818 690,825 690,870> 688,1000> 685,1100> 682,1220> 692,1345","497,850 640,868> 690,870","495,920 600,935 688,945","490,1012 590,1030 685,1050","485,1060 580,1075 685,1082","472,1165 580,1180 682,1190","460,1243 560,1258 680,1268","455,1318 570,1333> 690,1340",
"445,1410 560,1425 680,1420> 740,1380 775,1325 800,1310 905,1300>","440,1480 560,1490 680,1475> 830,1400 925,1365> 1020,1300 1050,1240 1040,1195 980,1180 780,1220> 695,1240",
"905,140 1190,145> 1260,155","955,145 1000,190 1060,235 1130,265> 1170,320 1150,400> 1060,450 1000,460 920,445> 780,410","1075,148 1140,215> 1195,270 1210,330 1190,395 1080,485 1000,490 930,485> 770,440","1090,148 1150,220 1205,275 1215,340 1200,390","1115,150 1155,195> 1220,260 1270,380> 1240,480 1180,575> 1050,610 950,612 860,590> 745,545","1270,400 1265,480 1140,610 1050,660 945,672> 820,640 735,608","1260,590> 1250,650 1060,720> 950,745 790,735> 710,712","1240,750 1160,762> 1000,785 880,800> 700,793","1235,805 950,825> 695,843","1225,915 1090,880> 950,880 810,900> 690,930","1215,1025 1150,1030> 1000,975 890,980> 780,1020 695,1050","1205,1080 1050,1060> 950,1045 780,1100> 690,1125","1175,1230 1165,1180 1140,1120 1080,1115 910,1120> 760,1170 690,1190","730,1490 800,1440 930,1365 1040,1300 1055,1200> 990,1170 780,1220 695,1240","740,1490 960,1450 1010,1400> 1100,1320 1165,1235> 1200,1100 1215,1025>","695,1295 790,1285 850,1270 905,1255 940,1265 930,1290 880,1300","780,345 930,320",
"1300,135 1275,380> 1255,595> 1235,810>","578,100 552,340> 538,490> 522,640","512,760 495,920 472,1165 445,1410","698,790 692,825",
"83,1428 270,1437> 440,1440","83,1470 130,1472> 270,1472> 440,1470","83,1490 290,1510> 420,1505> 710,1500","83,1500 280,1520 450,1535 620,1520 700,1500","1185,1355 1280,1340 1540,1315","1180,1385 1350,1390 1540,1365>","1180,1415 1300,1400 1540,1390","780,1550 860,1490","940,1530 1040,1440","1030,1520 1110,1440","1110,1500 1200,1430","1160,1490 1260,1420 1400,1390","1370,1450 1540,1410"
];

const legendEntriesA = ["numerical samples (889 cases)", "simulation of Rechter's cases", "experiment data (Rechter et al.)"];
const legendEntriesB = ["numerical samples (889 cases)", "simulation of Rechter's cases", "Experiment Data (Rechter et al.)"];

const SERIF = "'Liberation Serif', serif";
const SANS = "'Liberation Sans', sans-serif";
const MAROON = "#7f0000";
const BLUE = "#0000ff";
const grey = d3.scaleLinear<string>().domain([-9, 9]).range(["#cfcfcf", "#404040"]);

const triangle = (x: number, y: number) => `M${x},${y - 20}L${x + 20},${y + 20}L${x - 20},${y + 20}Z`;
const tripleLine = d3.line<[number, number]>().x((d) => d[0]).y((d) => d[1]);

function Panel(props: any) {
  const { left, right, top, bottom, yDomain, yTicks, yFormat, yLabel, yLabelX, yLabelY, yLabelSize, samples, simY, expY, legend, cbLeft, labelX } = props;
  const x = d3.scaleLinear().domain([0.3, 1.2]).range([left, right]);
  const y = d3.scaleLinear().domain(yDomain).range([bottom, top]);
  const cy = d3.scaleLinear().domain([-9, 9]).range([bottom, top]);
  const simPts = simMach.map((m, i) => [x(m), y(simY[i])] as [number, number]);
  const expPts = expMach.map((m, i) => [x(m), y(expY[i])] as [number, number]);
  const cbW = 61;
  const lg = legend;
  return (
    <g>
      <rect x={lg.x} y={68} width={lg.w} height={286} rx={10} fill="#fff" stroke="#d6d6d6" strokeWidth={4} />
      {samples.map((p: P, i: number) => (
        <circle key={i} cx={x(p[0])} cy={y(p[1])} r={5.4} fill={grey(p[2])} />
      ))}
      <path d={tripleLine(simPts)!} fill="none" stroke={MAROON} strokeWidth={11} strokeDasharray="38 17" />
      {simPts.map((p, i) => <circle key={i} cx={p[0]} cy={p[1]} r={18.5} fill={MAROON} />)}
      <path d={tripleLine(expPts)!} fill="none" stroke={BLUE} strokeWidth={11} strokeDasharray="38 17" />
      {expPts.map((p, i) => <path key={i} d={triangle(p[0], p[1])} fill={BLUE} />)}
      <rect x={left} y={top} width={right - left} height={bottom - top} fill="none" stroke="#111" strokeWidth={3} />
      {machTicks.map((t) => (
        <g key={t}>
          <line x1={x(t)} x2={x(t)} y1={bottom} y2={bottom + 13} stroke="#111" strokeWidth={3} />
          <text x={x(t)} y={1346} textAnchor="middle" fontFamily={SERIF} fontSize={66}>{t.toFixed(1)}</text>
        </g>
      ))}
      {yTicks.map((t: number) => (
        <g key={t}>
          <line x1={left - 12} x2={left} y1={y(t)} y2={y(t)} stroke="#111" strokeWidth={3} />
          <text x={left - 51} y={y(t) + 22} textAnchor="end" fontFamily={SERIF} fontSize={66}>{t.toFixed(yFormat)}</text>
        </g>
      ))}
      <text transform={`translate(${yLabelX},${yLabelY}) rotate(-90)`} textAnchor="middle" fontFamily={SERIF} fontSize={yLabelSize}>{yLabel}</text>
      <text x={(left + right) / 2} y={1420} textAnchor="middle" fontFamily={SERIF} fontSize={66}>
        <tspan fontStyle="italic">Ma</tspan><tspan fontSize={44} dy={12}>1</tspan>
      </text>
      {/* legend */}
      <circle cx={lg.hx} cy={120} r={5.5} fill="#bbbbbb" />
      <line x1={lg.hx - 62} x2={lg.hx + 64} y1={204.5} y2={204.5} stroke={MAROON} strokeWidth={11} strokeDasharray="38 17" />
      <circle cx={lg.hx} cy={204.5} r={18.5} fill={MAROON} />
      <line x1={lg.hx - 62} x2={lg.hx + 64} y1={294} y2={294} stroke={BLUE} strokeWidth={11} strokeDasharray="38 17" />
      <path d={triangle(lg.hx, 294)} fill={BLUE} />
      {lg.text.map((t: string, i: number) => (
        <text key={t} x={lg.tx} y={136 + i * 89.5} fontFamily={SERIF} fontSize={63}>{t}</text>
      ))}
      {/* colorbar */}
      <rect x={cbLeft} y={top} width={cbW} height={bottom - top} fill="url(#cbGrad)" stroke="#222" strokeWidth={3} />
      {incidenceTicks.map((t) => (
        <g key={t}>
          <line x1={cbLeft + cbW} x2={cbLeft + cbW + 13} y1={cy(t)} y2={cy(t)} stroke="#111" strokeWidth={3} />
          <text x={cbLeft + cbW + 27} y={cy(t) + 22} fontFamily={SERIF} fontSize={66}>{t}</text>
        </g>
      ))}
      <text transform={`translate(${labelX},${(top + bottom) / 2 + 2}) rotate(-90)`} textAnchor="middle" fontFamily={SERIF} fontSize={68}>
        <tspan fontStyle="italic">i</tspan> (°)
      </text>
    </g>
  );
}

function parseStream(s: string) {
  return s.split(" ").map((t) => {
    const arrow = t.endsWith(">");
    const [a, b] = t.replace(">", "").split(",").map(Number);
    return { a, b, arrow };
  });
}
const pts = (s: string) => s.split(" ").map((t) => t.split(",").map(Number) as [number, number]);

function Blade(props: any) {
  const { frame, blade, wall, streams, vortices, cores, id } = props;
  const sx = d3.scaleLinear().domain([0, 1568]).range(frame.x);
  const sy = d3.scaleLinear().domain([0, 1568]).range(frame.y);
  const k = (frame.x[1] - frame.x[0]) / 1568;
  const ky = (frame.y[1] - frame.y[0]) / 1568;
  const shape = d3.line<[number, number]>().x((d) => sx(d[0])).y((d) => sy(d[1]));
  const curve = d3.line<any>().x((d) => sx(d.a)).y((d) => sy(d.b)).curve(d3.curveCatmullRom.alpha(0.5));
  const edge = d3.line<[number, number]>().x((d) => sx(d[0])).y((d) => sy(d[1])).curve(d3.curveCatmullRom.alpha(0.5));
  const edges = blade.split("|").map(pts);
  const bladePath = edges.map((e: [number, number][], i: number) => {
    const d = edge(e)!;
    return i === 0 ? d : "L" + d.slice(1);
  }).join("") + "Z";
  const parsed = streams.map(parseStream);
  const arrows: string[] = [];
  parsed.forEach((line: any[]) => {
    line.forEach((p, i) => {
      if (!p.arrow) return;
      const prev = line[Math.max(0, i - 1)];
      const next = line[Math.min(line.length - 1, i + 1)];
      const ang = Math.atan2(sy(next.b) - sy(prev.b), sx(next.a) - sx(prev.a));
      const px = sx(p.a), py = sy(p.b), L = 17, w = 0.42;
      arrows.push(`M${px - L * Math.cos(ang - w)},${py - L * Math.sin(ang - w)}L${px},${py}L${px - L * Math.cos(ang + w)},${py - L * Math.sin(ang + w)}`);
    });
  });
  return (
    <g>
      <path d={shape(pts(wall))! + "Z"} fill={`url(#wall${id})`} />
      <path d={bladePath} fill="url(#bladeGrad)" />
      <path d={edge(edges[0])!} fill="none" stroke="#c6c6c6" strokeWidth={8} transform="translate(0,3)" />
      {parsed.map((l: any[], i: number) => (
        <path key={i} d={curve(l)!} fill="none" stroke="#1c1c1c" strokeWidth={1.7} />
      ))}
      <path d={arrows.join("")} fill="none" stroke="#1c1c1c" strokeWidth={1.7} />
      {vortices.map((v: number[], i: number) => (
        <ellipse key={i} cx={sx(v[0])} cy={sy(v[1])} rx={v[2] * k} ry={v[3] * ky} fill="none" stroke="#1c1c1c" strokeWidth={1.5} />
      ))}
      {cores.map((v: number[], i: number) => (
        <ellipse key={i} cx={sx(v[0])} cy={sy(v[1])} rx={v[2] * k} ry={v[3] * ky} fill="#050505" />
      ))}
      <text x={sx(frame.numX)} y={sy(frame.numY)} textAnchor="middle" fontFamily={`'${frame.font}'`} fontSize={frame.size}>{frame.num}</text>
    </g>
  );
}

export default function App() {
  const xa = d3.scaleLinear().domain([0.3, 1.2]).range([294.6, 1665]);
  const ya = d3.scaleLinear().domain([0, 0.25]).range([1251, 36]);
  return (
    <svg width={3946} height={2564} viewBox="0 0 3946 2564" style={{ position: "absolute", left: 0, top: 0, background: "#fff" }}>
      <defs>
        <linearGradient id="cbGrad" x1="0" y1="1" x2="0" y2="0">
          <stop offset="0" stopColor={grey(-9)} />
          <stop offset="1" stopColor={grey(9)} />
        </linearGradient>
        <linearGradient id="bladeGrad" x1="0" y1="0" x2="1" y2="0">
          <stop offset="0" stopColor="#a6a6a6" />
          <stop offset="0.3" stopColor="#b4b4b4" />
          <stop offset="0.55" stopColor="#bdbdbd" />
          <stop offset="1" stopColor="#b0b0b0" />
        </linearGradient>
        {[1, 2, 3].map((i) => (
          <linearGradient key={i} id={`wall${i}`} x1="0" y1="0" x2="1" y2="0.3">
            <stop offset="0" stopColor="#a8a8a8" />
            <stop offset="1" stopColor="#989898" />
          </linearGradient>
        ))}
      </defs>

      <Panel left={294.6} right={1665} top={36} bottom={1251} yDomain={[0, 0.25]} yTicks={lossTicks} yFormat={2} yLabel="midspan loss" yLabelX={96} yLabelY={638} yLabelSize={70} samples={lossSamples} simY={simLoss} expY={expLoss}
        legend={{ x: 325, w: 1021, hx: 413, tx: 527, text: legendEntriesA }} cbLeft={1750} labelX={1951} />
      <Panel left={2269} right={3640} top={36} bottom={1251} yDomain={[0.6, 1.8]} yTicks={avdrTicks} yFormat={1} yLabel="midspan AVDR" yLabelX={2106} yLabelY={659} yLabelSize={66} samples={avdrSamples} simY={simAvdr} expY={expAvdr}
        legend={{ x: 2565, w: 1041, hx: 2651.5, tx: 2765, text: legendEntriesB }} cbLeft={3725} labelX={3921} />

      {/* ellipse and numbered states of panel (a) */}
      <ellipse cx={xa(0.862)} cy={ya(0.0767)} rx={159} ry={361} fill="none" stroke={MAROON} strokeWidth={5} />
      <text x={xa(0.851)} y={ya(0.0214)} textAnchor="middle" fontFamily={SERIF} fontSize={71}>1</text>
      <text x={xa(0.901)} y={ya(0.0465)} textAnchor="middle" fontFamily={SERIF} fontSize={71}>2</text>
      <text x={xa(0.8466)} y={ya(0.1224)} textAnchor="middle" fontFamily={SERIF} fontSize={71}>3</text>

      <text x={3} y={57} fontFamily={SANS} fontSize={63}>(a)</text>
      <text x={2020} y={57} fontFamily={SANS} fontSize={63}>(b)</text>
      <text x={3} y={1538} fontFamily={SANS} fontSize={63}>(c)</text>

      <Blade id={1} frame={bladeOneFrame} blade={bladeOneBlade} wall={bladeOneWall} streams={bladeOneStreams} vortices={bladeOneVortices} cores={bladeOneCores} />
      <Blade id={2} frame={bladeTwoFrame} blade={bladeTwoBlade} wall={bladeTwoWall} streams={bladeTwoStreams} vortices={bladeTwoVortices} cores={bladeTwoCores} />
      <Blade id={3} frame={bladeThreeFrame} blade={bladeThreeBlade} wall={bladeThreeWall} streams={bladeThreeStreams} vortices={bladeThreeVortices} cores={bladeThreeCores} />

      <path d="M1105,1979.5H1420V1956L1489,1991L1420,2026V2002.5H1105Z" fill={MAROON} />
      <path d="M2390,1979.5H2706V1956L2775,1991L2706,2026V2002.5H2390Z" fill={MAROON} />
    </svg>
  );
}
